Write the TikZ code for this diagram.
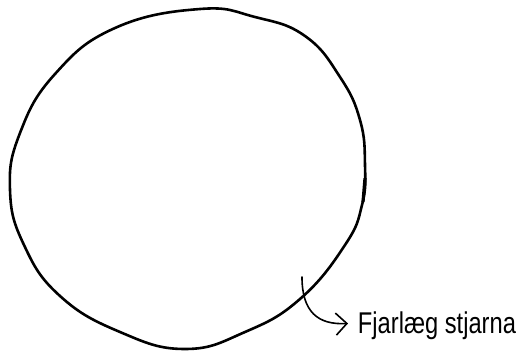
\documentclass[tikz,border=0pt]{standalone}
\usepackage{fontspec}
\setmainfont{Liberation Sans}
\usetikzlibrary{arrows.meta,positioning}

\begin{document}
\begin{tikzpicture}[x=1pt, y=-1pt,
  rim/.style={line width=2.6pt, line join=round},
  pointer/.style={line width=1.6pt, line cap=round, line join=round,
    -{Straight Barb[length=11pt, width=22pt]}},
  lab/.style={font=\fontsize{30}{32}\selectfont, inner sep=1pt, text depth=0pt,
    xscale=0.79, anchor=west}]
  \useasboundingbox (0, 0) rectangle (523, 351);
  % the star
  \draw[rim] plot[smooth cycle, tension=0.75] coordinates
    {(200,9) (255,17) (305,36) (340,77) (360,120) (365,165)
     (362,205) (345,245) (300,299) (245,332) (185,349)
     (120,332) (60,296) (24,245) (10,190) (20,133) (55,74) (115,28)};
  \draw[line width=3.2pt] (365,178) -- (363,202);
  % label and pointer
  \node[lab] (lbl) at (357, 323) {Fjarlæg stjarna};
  \coordinate (tail) at (302, 277);
  \draw[pointer, shorten >=9pt] (tail) .. controls (302, 312) and (318, 325) .. (lbl.west);
\end{tikzpicture}
\end{document}
